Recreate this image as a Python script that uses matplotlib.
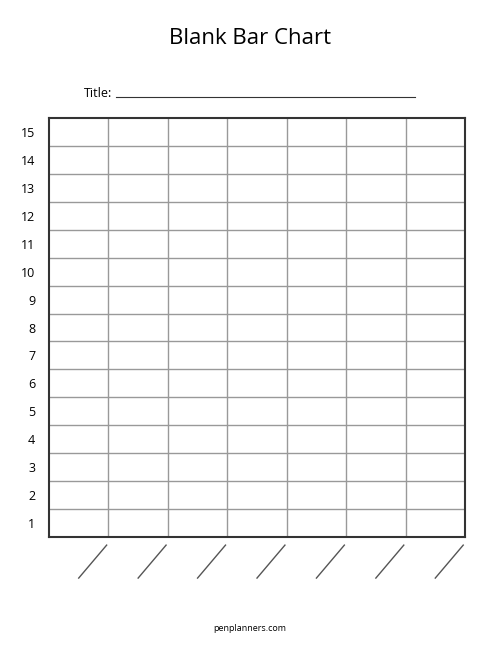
import matplotlib.pyplot as plt

plt.rcParams['font.family'] = ['Open Sans', 'DejaVu Sans']

n_columns = 7
y_values = list(range(1, 16))

fig = plt.figure(figsize=(5, 6.47), dpi=100)
ax = fig.add_axes([0.098, 0.170, 0.832, 0.6476])
ax.set_xlim(0, n_columns)
ax.set_ylim(0, len(y_values))

for i in range(1, n_columns):
    ax.axvline(i, color='#999999', lw=1)
for v in y_values[:-1]:
    ax.axhline(v, color='#999999', lw=1)
for s in ax.spines.values():
    s.set_color('#333333')
    s.set_linewidth(1.5)

ax.set_xticks([])
ax.set_yticks([v - 0.5 for v in y_values])
ax.set_yticklabels([str(v) for v in y_values], fontsize=9)
ax.tick_params(axis='y', length=0, pad=10)

# slanted label lines under each column
for i in range(n_columns):
    ax.plot([i + 1 - 0.03, i + 0.5], [-0.29, -1.47], color='#555555', lw=1, clip_on=False)

fig.text(0.5, 0.94, 'Blank Bar Chart', ha='center', va='center', fontsize=16)
fig.text(0.168, 0.856, 'Title:', ha='left', va='center', fontsize=9)
fig.add_artist(plt.Line2D([0.232, 0.83], [0.850, 0.850], color='#333333', lw=0.8))
fig.text(0.5, 0.029, 'penplanners.com', ha='center', va='center', fontsize=6.5)

fig.savefig('out.png', dpi=100)
